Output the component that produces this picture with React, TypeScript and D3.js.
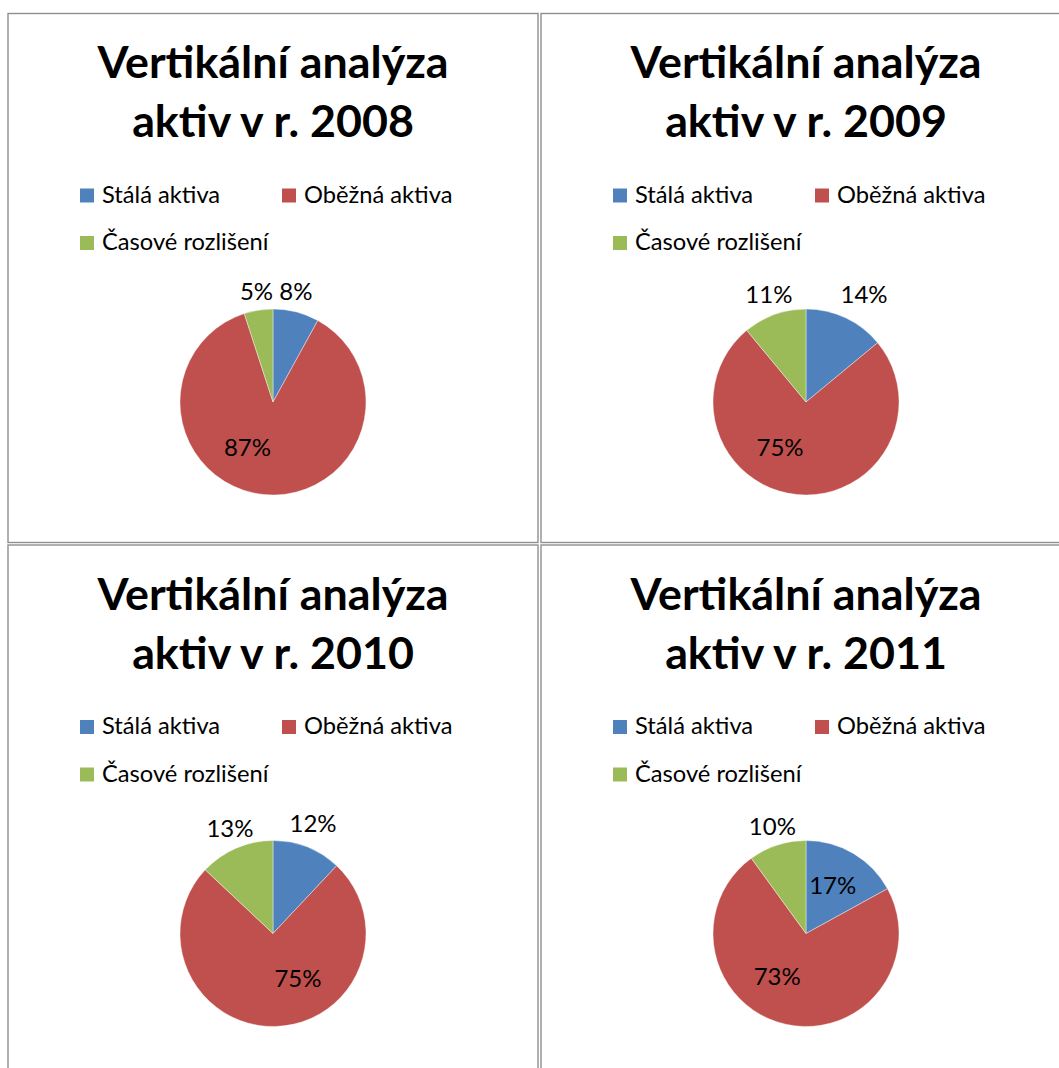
import React from "react";
import * as d3 from "d3";

// ---- data ----
const years = ["2008", "2009", "2010", "2011"];
const categories = ["Stálá aktiva", "Oběžná aktiva", "Časové rozlišení"];
const values2008 = [8, 87, 5];
const values2009 = [14, 75, 11];
const values2010 = [12, 75, 13];
const values2011 = [17, 73, 10];
const seriesByYear = [values2008, values2009, values2010, values2011];
const titleLine1 = "Vertikální analýza";
const titleLine2Prefix = "aktiv v r. ";

// ---- style ----
const colors = ["#4F81BD", "#C0504D", "#9BBB59"];
// label placement per chart / slice: radius from centre and angular nudge (deg)
const labelPlacement = [
  [{ r: 113, da: -2.7 }, { r: 52, da: 24 }, { r: 112, da: 0.5 }],
  [{ r: 122, da: 3.2 }, { r: 52, da: 24.6 }, { r: 114, da: 0.8 }],
  [{ r: 117, da: -1.6 }, { r: 51, da: -27.5 }, { r: 114, da: 1.2 }],
  [{ r: 55, da: -1.6 }, { r: 52, da: 21 }, { r: 112, da: 0.5 }],
];

const W = 1059;
const H = 1068;
const panelX0 = 8;
const panelY0 = 13.5;
const panelW = 530;
const panelH = 529;
const stepX = 533;
const stepY = 531.5;
const radius = 93;
const font = "Lato, 'Open Sans', sans-serif";

function Panel({ idx }: { idx: number }) {
  const col = idx % 2;
  const row = Math.floor(idx / 2);
  const x0 = panelX0 + col * stepX;
  const y0 = panelY0 + row * stepY;
  const cx = panelW / 2;
  const cy = 388.5;
  const vals = seriesByYear[idx];
  const pie = d3
    .pie<number>()
    .sort(null)
    .value((d) => d)
    .startAngle(0)
    .endAngle(2 * Math.PI);
  const arcs = pie(vals);
  const arc = d3.arc<d3.PieArcDatum<number>>().innerRadius(0).outerRadius(radius);
  const total = d3.sum(vals);

  const legendItems = [
    { i: 0, x: 72, y: 189 },
    { i: 1, x: 274, y: 189 },
    { i: 2, x: 72, y: 236.5 },
  ];

  return (
    <g transform={`translate(${x0},${y0})`}>
      <rect
        x={0}
        y={0}
        width={panelW}
        height={panelH}
        fill="#fff"
        stroke="#8f8f8f"
        strokeWidth={1.4}
      />
      <text
        x={cx}
        y={64.5}
        textAnchor="middle"
        fontFamily={font}
        fontWeight="bold"
        fontSize={44.8}
        fill="#000"
      >
        {titleLine1}
      </text>
      <text
        x={cx}
        y={123.5}
        textAnchor="middle"
        fontFamily={font}
        fontWeight="bold"
        fontSize={44.8}
        fill="#000"
      >
        {titleLine2Prefix + years[idx]}
      </text>
      {legendItems.map((it) => (
        <g key={it.i}>
          <rect x={it.x} y={it.y - 14} width={14} height={14} fill={colors[it.i]} />
          <text x={it.x + 22} y={it.y} fontFamily={font} fontSize={23.7} fill="#000">
            {categories[it.i]}
          </text>
        </g>
      ))}
      <g transform={`translate(${cx},${cy})`}>
        {arcs.map((a, i) => (
          <path key={i} d={arc(a) || ""} fill={colors[i]} stroke="#ffffff" strokeWidth={0.4} />
        ))}
        {arcs.map((a, i) => {
          const p = labelPlacement[idx][i];
          const ang = (a.startAngle + a.endAngle) / 2 + (p.da * Math.PI) / 180;
          const lx = Math.sin(ang) * p.r;
          const ly = -Math.cos(ang) * p.r;
          return (
            <text
              key={"l" + i}
              x={lx}
              y={ly}
              dy="0.36em"
              textAnchor="middle"
              fontFamily={font}
              fontSize={24}
              fill="#000"
            >
              {d3.format(".0%")(a.data / total)}
            </text>
          );
        })}
      </g>
    </g>
  );
}

export default function App() {
  return (
    <svg
      width={W}
      height={H}
      style={{ position: "absolute", left: 0, top: 0, background: "#fff" }}
    >
      <rect x={0} y={0} width={W} height={H} fill="#fff" />
      {years.map((_, i) => (
        <Panel key={i} idx={i} />
      ))}
    </svg>
  );
}
